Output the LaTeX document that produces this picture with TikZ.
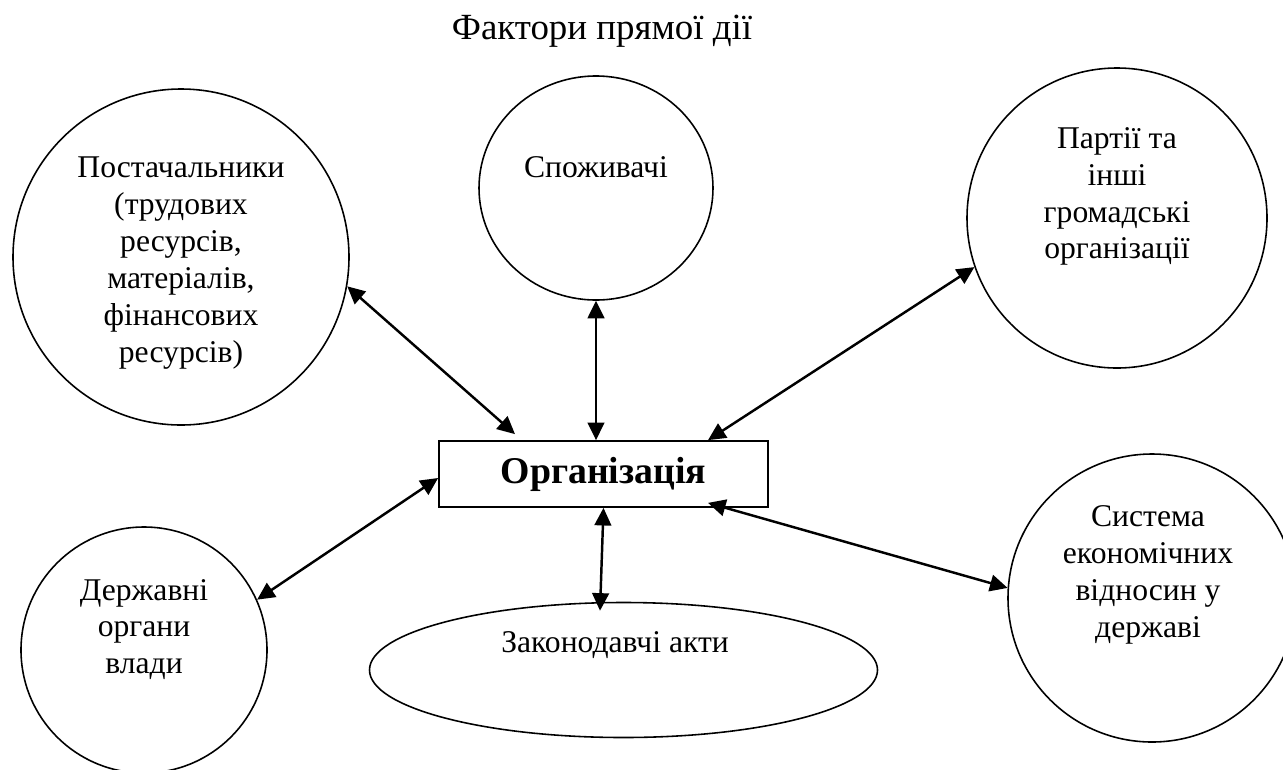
\documentclass[tikz,border=0pt]{standalone}
\usepackage{fontspec}
\setmainfont{Liberation Serif}
\usetikzlibrary{shapes, arrows.meta, positioning, calc}

\begin{document}
\begin{tikzpicture}[
			factor/.style={circle, draw, line width=0.9pt, inner sep=0pt},
			oval/.style={ellipse, draw, line width=0.9pt, inner sep=0pt},
			txt/.style={align=center, font=\fontsize{18}{21}\selectfont},
			center/.style={rectangle, draw, line width=1pt, minimum width=6.58cm, minimum height=1.32cm, font=\fontsize{21.5}{25}\selectfont\bfseries},
			arrow/.style={{Triangle[length=10pt,width=9.5pt]}-{Triangle[length=10pt,width=9.5pt]}, line width=1.4pt}
			]
			\useasboundingbox (0,0) rectangle (25.66,-15.38);
			
			\node[font=\fontsize{21}{25}\selectfont, anchor=base] (title) at (12.04,-0.78) {Фактори прямої дії};
			
			\node[center] (org) at (12.07,-9.48) {Організація};
			
			\node[factor, minimum size=6.72cm] (sup) at (3.62,-5.14) {};
			\node[oval, minimum width=4.68cm, minimum height=4.48cm] (spo) at (11.92,-3.76) {};
			\node[factor, minimum size=6cm] (par) at (22.34,-4.36) {};
			\node[factor, minimum size=4.92cm] (der) at (2.88,-13.0) {};
			\node[oval, minimum width=10.16cm, minimum height=2.7cm] (zak) at (12.47,-13.4) {};
			\node[factor, minimum size=5.76cm] (sys) at (23.04,-11.96) {};
			
			\node[txt, yshift=-0.12cm] (sup-t) at (sup) {Постачальники\\(трудових\\ресурсів,\\матеріалів,\\фінансових\\ресурсів)};
			\node[txt, yshift=0.42cm] (spo-t) at (spo) {Споживачі};
			\node[txt, yshift=0.43cm] (par-t) at (par) {Партії та\\інші\\громадські\\організації};
			\node[txt, yshift=0.41cm] (der-t) at (der) {Державні\\органи\\влади};
			\node[txt, xshift=-0.17cm, yshift=0.5cm] (zak-t) at (zak) {Законодавчі акти};
			\node[txt, xshift=-0.08cm, yshift=0.46cm] (sys-t) at (sys) {Система\\економічних\\відносин у\\державі};
			
			\draw[arrow] (sup.-10) -- ([xshift=-1.77cm, yshift=0.12cm]org.north);
			\draw[arrow] (spo.south) -- (spo.south |- org.north);
			\draw[arrow] (par.199) -- ([xshift=2.09cm]org.north);
			\draw[arrow] (der.24) -- ([yshift=-0.08cm]org.west);
			\draw[arrow] (org.south) -- ([xshift=-0.47cm, yshift=-0.18cm]zak.north);
			\draw[arrow] ([xshift=2.09cm, yshift=0.1cm]org.south) -- (sys.176);
		\end{tikzpicture}
\end{document}
